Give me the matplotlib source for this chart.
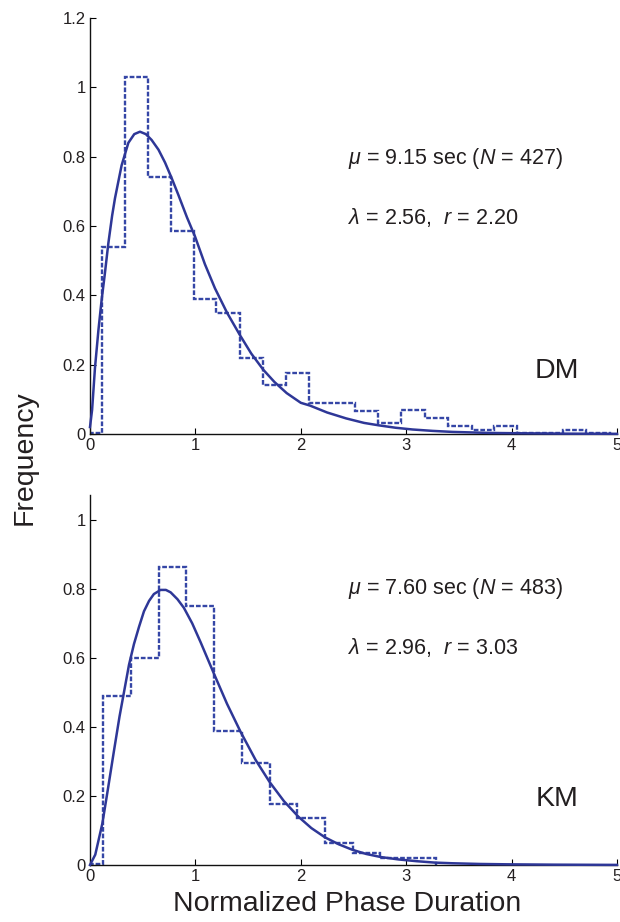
import matplotlib
matplotlib.use("Agg")
import matplotlib.pyplot as plt

plt.rcParams['font.family'] = ['Liberation Sans', 'DejaVu Sans']
plt.rcParams['mathtext.fontset'] = 'custom'
plt.rcParams['mathtext.rm'] = 'Liberation Sans'
plt.rcParams['mathtext.it'] = 'Liberation Sans:italic'

# ---------------- DM (top panel) ----------------
dm_edges = [0, 0.11, 0.33, 0.55, 0.77, 0.985, 1.20, 1.42, 1.64, 1.855, 2.075,
            2.295, 2.515, 2.735, 2.955, 3.175, 3.395, 3.62, 3.835, 4.05,
            4.27, 4.49, 4.71, 4.93]
dm_heights = [0.004, 0.54, 1.03, 0.74, 0.585, 0.39, 0.35, 0.22, 0.14, 0.175,
              0.088, 0.088, 0.067, 0.033, 0.068, 0.046, 0.023, 0.012, 0.023,
              0.003, 0.003, 0.012, 0.003]
dm_fit_x = [0, 0.02, 0.047, 0.08, 0.11, 0.14, 0.174, 0.21, 0.237, 0.27, 0.30,
            0.364, 0.42, 0.474, 0.53, 0.585, 0.65, 0.712, 0.775, 0.838, 0.92,
            0.996, 1.09, 1.186, 1.30, 1.423, 1.53, 1.645, 1.75, 1.866, 2.0,
            2.087, 2.25, 2.43, 2.6, 2.74, 2.9, 3.06, 3.25, 3.44, 3.8, 4.12,
            4.5, 5.0]
dm_fit_y = [0.02, 0.07, 0.19, 0.30, 0.386, 0.46, 0.55, 0.63, 0.68, 0.73, 0.775,
            0.84, 0.865, 0.872, 0.865, 0.848, 0.82, 0.783, 0.738, 0.69, 0.625,
            0.57, 0.49, 0.42, 0.35, 0.285, 0.232, 0.185, 0.15, 0.118, 0.09,
            0.082, 0.062, 0.045, 0.032, 0.025, 0.018, 0.013, 0.009, 0.006,
            0.003, 0.002, 0.001, 0.0005]
dm_line1 = r'$\mu$ = 9.15 sec ($N$ = 427)'
dm_line2 = r'$\lambda$ = 2.56,  $r$ = 2.20'

# ---------------- KM (bottom panel) ----------------
km_edges = [0, 0.126, 0.389, 0.652, 0.915, 1.178, 1.441, 1.704, 1.967, 2.23,
            2.493, 2.756, 3.019, 3.282]
km_heights = [0.003, 0.49, 0.60, 0.863, 0.75, 0.388, 0.295, 0.177, 0.137,
              0.065, 0.034, 0.021, 0.019]
km_fit_x = [0, 0.05, 0.117, 0.17, 0.227, 0.28, 0.322, 0.37, 0.417, 0.465,
            0.512, 0.56, 0.606, 0.67, 0.72, 0.765, 0.83, 0.891, 0.97, 1.05,
            1.175, 1.30, 1.43, 1.57, 1.705, 1.84, 1.977, 2.1, 2.23, 2.36, 2.49,
            2.62, 2.76, 2.93, 3.1, 3.27, 3.44, 3.7, 3.95, 4.4, 5.0]
km_fit_y = [0.0, 0.03, 0.12, 0.22, 0.33, 0.43, 0.50, 0.58, 0.64, 0.69, 0.735,
            0.765, 0.785, 0.797, 0.797, 0.79, 0.77, 0.745, 0.70, 0.645, 0.555,
            0.467, 0.385, 0.305, 0.24, 0.185, 0.14, 0.107, 0.08, 0.06, 0.044,
            0.032, 0.023, 0.016, 0.011, 0.007, 0.005, 0.003, 0.002, 0.001,
            0.0003]
km_line1 = r'$\mu$ = 7.60 sec ($N$ = 483)'
km_line2 = r'$\lambda$ = 2.96,  $r$ = 3.03'

x_ticks = [0, 1, 2, 3, 4, 5]
top_yticks = [0, 0.2, 0.4, 0.6, 0.8, 1.0, 1.2]
top_ylabels = ['0', '0.2', '0.4', '0.6', '0.8', '1', '1.2']
bot_yticks = [0, 0.2, 0.4, 0.6, 0.8, 1.0]
bot_ylabels = ['0', '0.2', '0.4', '0.6', '0.8', '1']

LINE_C = '#2e3797'
HIST_C = '#3546a6'
TXT_C = '#231f20'

fig = plt.figure(figsize=(6.2, 9.22), dpi=100)
W, H = 620, 922


def make_ax(px_left, px_right, px_top, px_bottom):
    return fig.add_axes([px_left / W, 1 - px_bottom / H,
                         (px_right - px_left) / W, (px_bottom - px_top) / H])


ax1 = make_ax(90, 617, 18, 434)
ax2 = make_ax(90, 617, 495, 865)


def style(ax, ylim, yticks, ylabels):
    ax.set_xlim(0, 5)
    ax.set_ylim(*ylim)
    for s in ['top', 'right']:
        ax.spines[s].set_visible(False)
    for s in ['left', 'bottom']:
        ax.spines[s].set_linewidth(1.0)
        ax.spines[s].set_color('#111111')
    ax.set_xticks(x_ticks)
    ax.set_xticklabels([str(t) for t in x_ticks])
    ax.set_yticks(yticks)
    ax.set_yticklabels(ylabels)
    ax.tick_params(direction='in', length=4, width=0.8, labelsize=12,
                   labelcolor=TXT_C, pad=3)
    for lab in ax.get_xticklabels() + ax.get_yticklabels():
        lab.set_clip_on(False)


style(ax1, (0, 1.2), top_yticks, top_ylabels)
style(ax2, (0, 1.072), bot_yticks, bot_ylabels)

for ax, edges, heights, fx, fy, l1, l2, tag, y1, y2, ytag in [
        (ax1, dm_edges, dm_heights, dm_fit_x, dm_fit_y, dm_line1, dm_line2,
         'DM', 164, 224, 371),
        (ax2, km_edges, km_heights, km_fit_x, km_fit_y, km_line1, km_line2,
         'KM', 594, 654, 799)]:
    ax.stairs(heights, edges, baseline=0, color=HIST_C, linestyle=(0, (2.0, 0.8)),
              linewidth=1.7, zorder=2)
    ax.plot(fx, fy, color=LINE_C, linewidth=1.8, zorder=3, clip_on=False)
    fig.text(348 / W, 1 - y1 / H, l1, fontsize=15.5, color=TXT_C,
             ha='left', va='baseline')
    fig.text(348 / W, 1 - y2 / H, l2, fontsize=15.5, color=TXT_C,
             ha='left', va='baseline')
    fig.text(557 / W, 1 - ytag / H, tag, fontsize=20.5, color=TXT_C,
             ha='center', va='center')

fig.text(25 / W, 1 - 458 / H, 'Frequency', rotation=90, fontsize=20.5,
         color=TXT_C, ha='center', va='center')
fig.text(347 / W, 1 - 904 / H, 'Normalized Phase Duration', fontsize=20.5,
         color=TXT_C, ha='center', va='center')

fig.savefig('out.png', dpi=100)
